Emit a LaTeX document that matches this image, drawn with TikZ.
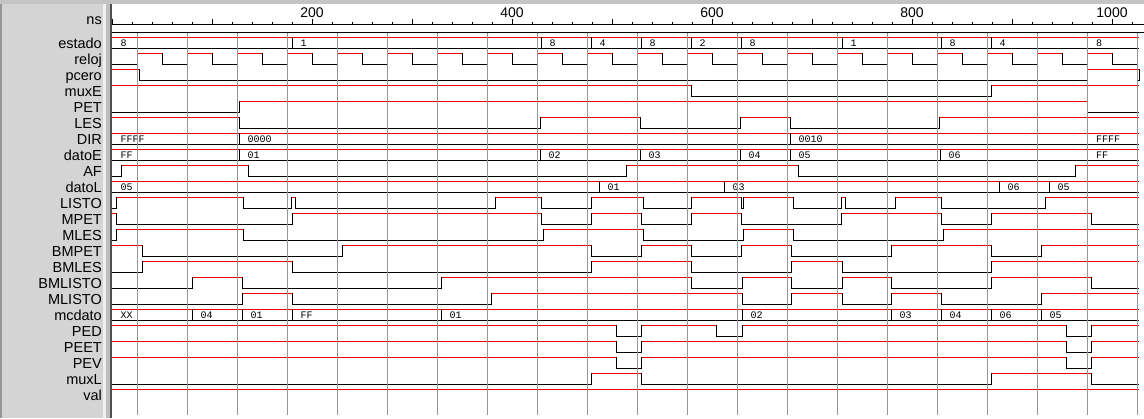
\documentclass[tikz,border=0pt]{standalone}
\usepackage{fontspec}
\setmainfont{Liberation Sans}
\newfontfamily\monof{Liberation Mono}
\definecolor{panelgray}{RGB}{212,212,212}
\definecolor{bandgray}{RGB}{196,196,196}
\definecolor{gridgray}{RGB}{150,150,150}
\definecolor{wred}{RGB}{235,0,0}
\definecolor{divdark}{RGB}{80,80,80}
\definecolor{divmid}{RGB}{190,190,190}
\definecolor{divlight}{RGB}{240,240,240}

% binary signal: #1 centre y, #2 initial level, #3 transition list
\newcommand\wseg[4]{\ifnum#4=1\relax\draw[hi] (#2,#1-5.5) -- (#3,#1-5.5);\else\draw[lo] (#2,#1+5.5) -- (#3,#1+5.5);\fi}
\newcommand\wsig[3]{%
  \xdef\wprev{112}\xdef\wlev{#2}%
  \foreach \t in {#3}{%
    \wseg{#1}{\wprev}{\t}{\wlev}%
    \pgfmathtruncatemacro\nl{1-\wlev}\xdef\wlev{\nl}\xdef\wprev{\t}%
  }%
  \wseg{#1}{\wprev}{1138}{\wlev}%
  \foreach \t in {#3}{\draw[lo] (\t,#1-5.5) -- (\t,#1+5.5);}%
}
% bus: #1 name, #2 centre y, #3 list x/value
\newcommand\wbus[3]{%
  \draw[hi] (112,#2-5.5) -- (1138,#2-5.5);
  \draw[lo] (112,#2+5.5) -- (1138,#2+5.5);
  \foreach \t/\v in {#3}{%
    \ifdim\t pt>112.5pt\relax\draw[lo] (\t,#2-5.5) -- (\t,#2+5.5);\fi
    \node[busval] (#1-\t) at (\t+8.5,#2+3.4) {\v};
  }%
}

\begin{document}
\begin{tikzpicture}[x=1pt,y=-1pt,
  hi/.style={draw=wred,line width=1pt,line cap=rect},
  lo/.style={draw=black,line width=1pt,line cap=rect},
  gridl/.style={draw=gridgray,line width=1.2pt},
  lab/.style={font=\fontsize{14.5}{16}\selectfont,inner sep=0,anchor=base east,text=black},
  rulelab/.style={font=\fontsize{14}{16}\selectfont,inner sep=0,anchor=base},
  busval/.style={font=\monof\fontsize{10}{11}\selectfont,inner sep=0,anchor=base west}]
\useasboundingbox (0,0) rectangle (1144,418);
% backgrounds
\fill[white] (0,0) rectangle (1144,418);
\fill[panelgray] (0,0) rectangle (103,418);
\fill[divlight] (103,0) rectangle (105.5,418);
\fill[divmid] (105.5,0) rectangle (110,418);
\fill[divdark] (110,0) rectangle (111.5,418);
\fill[gridgray] (0,0) rectangle (2,418);
\fill[bandgray] (0,0) rectangle (1144,4);

% ruler
\draw[black,line width=1pt] (111.5,24) -- (1144,24);
\foreach \k in {0,...,51}{\draw[black,line width=1pt] (112+20*\k,24) -- (112+20*\k,21.5);}
\foreach \k in {0,...,10}{\draw[black,line width=1pt] (112+100*\k,24) -- (112+100*\k,19);}
\foreach \v in {200,400,600,800,1000}{\node[rulelab] (r\v) at (112+\v,17) {\v};}
\node[lab] (lab-ns) at (102,24.5) {ns};
\draw[black,line width=1pt] (111.5,32) -- (1144,32);

% signal names
\foreach \n [count=\i from 0] in {estado,reloj,pcero,muxE,PET,LES,DIR,datoE,AF,datoL,LISTO,MPET,MLES,BMPET,BMLES,BMLISTO,MLISTO,mcdato,PED,PEET,PEV,muxL,val}
  {\node[lab] (lab-\n) at (102,42.8+16*\i+5.3) {\n};}

% waveforms
\wbus{estado}{42.8}{112/8,292/1,541/8,591/4,641/8,691/2,741/8,842/1,941/8,991/4,1087.5/8}
% reloj
\draw[lo] (112,64.3) -- (137.5,64.3);
\foreach \k in {0,...,19}{%
  \draw[hi] (137.5+50*\k,53.3) -- ++(25,0);
  \draw[lo] (162.5+50*\k,64.3) -- ++(25,0);
  \draw[lo] (137.5+50*\k,53.3) -- ++(0,11);
  \draw[lo] (162.5+50*\k,53.3) -- ++(0,11);}
\wsig{74.8}{1}{139,1087.5,1139}
\wsig{90.8}{1}{691,991}
\wsig{106.8}{0}{239,1087.5}
\wsig{122.8}{1}{239,540,640,740,790,939}
\wbus{DIR}{138.8}{112/FFFF,239/0000,790/0010,1087.5/FFFF}
\wbus{datoE}{154.8}{112/FF,239/01,540/02,640/03,740/04,790/05,940/06,1087.5/FF}
\wsig{170.8}{0}{121,248,626,798,1075}
\wbus{datoL}{186.8}{112/05,599/01,724/03,999/06,1049/05}
\wsig{202.8}{0}{116,243,291,295,495,541,591,643,691,741.5,743,793,841.5,845,895,941,1045}
\wsig{218.8}{1}{116,292,541,591,641,691,741.5,841.5,941,991,1091}
\wsig{234.8}{0}{116,243,543,643,743,793,943}
\wsig{250.8}{1}{142,342,591,641,691,741,791,891,991,1041}
\wsig{266.8}{0}{142,292,591,691,791,842,991}
\wsig{282.8}{0}{192,242,441,691,742,791,842,891,991,1091}
\wsig{298.8}{0}{242,292,491,742,791,842,891,941,1041}
\wbus{mcdato}{314.8}{112/XX,192/04,242/01,292/FF,441/01,742/02,891/03,941/04,991/06,1041/05}
\wsig{330.8}{1}{616,641,716,742,1066,1091}
\wsig{346.8}{1}{616,641,1066,1091}
\wsig{362.8}{1}{616,641,1066,1091}
\wsig{378.8}{0}{591,641,991,1091}
\draw[hi] (112,389.3) -- (1138,389.3);

% grid
\foreach \k in {0,...,20}{\draw[gridl] (137.5+50*\k,32.5) -- (137.5+50*\k,415);}
\end{tikzpicture}
\end{document}
